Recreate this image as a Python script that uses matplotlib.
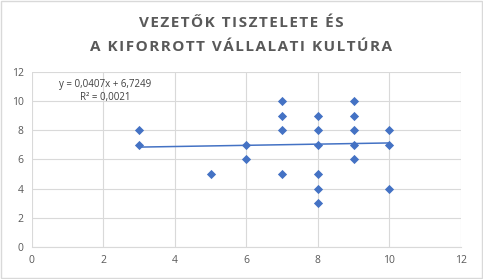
import matplotlib
matplotlib.use('Agg')
import matplotlib.pyplot as plt
from matplotlib.patches import Rectangle
import numpy as np

x_vals = [3, 3, 5, 6, 6, 7, 7, 7, 7, 8, 8, 8, 8, 8, 8, 9, 9, 9, 9, 9, 10, 10, 10]
y_vals = [8, 7, 5, 7, 6, 10, 9, 8, 5, 9, 8, 7, 5, 4, 3, 10, 9, 8, 7, 6, 8, 7, 4]
slope = 0.0407
intercept = 6.7249
eq_text = "y = 0,0407x + 6,7249\nR² = 0,0021"
title_lines = ["VEZETŐK TISZTELETE ÉS", "A KIFORROTT VÁLLALATI KULTÚRA"]

plt.rcParams['font.family'] = ['Open Sans', 'DejaVu Sans']

def spaced(s):
    # Excel title uses extra letter spacing
    return '\u200a'.join(s)

fig = plt.figure(figsize=(4.83, 2.79), dpi=100)
ax = fig.add_axes([0.066, 0.115, 0.888, 0.627])

ax.scatter(x_vals, y_vals, marker='D', s=22, color='#4472C4', zorder=3, linewidths=0)
tx = np.array([min(x_vals), max(x_vals)])
ax.plot(tx, slope * tx + intercept, color='#4472C4', lw=1.1, zorder=2)

ax.set_xlim(0, 12)
ax.set_ylim(0, 12)
ax.set_xticks(range(0, 13, 2))
ax.set_yticks(range(0, 13, 2))
ax.grid(True, color='#D9D9D9', lw=0.8)
ax.set_axisbelow(True)
for s in ['top', 'right', 'left']:
    ax.spines[s].set_visible(False)
ax.spines['bottom'].set_color('#D9D9D9')
ax.tick_params(length=0, labelsize=7.5, labelcolor='#595959', pad=6)

ax.text(2.04, 10.7, eq_text, ha='center', va='center', fontsize=7,
        color='#404040', linespacing=1.25)

fig.text(0.5, 0.918, spaced(title_lines[0]), ha='center', va='center', fontsize=11,
         fontweight='bold', color='#595959')
fig.text(0.5, 0.83, spaced(title_lines[1]), ha='center', va='center', fontsize=11,
         fontweight='bold', color='#595959')

fig.patches.append(Rectangle((0.003, 0.005), 0.994, 0.99, transform=fig.transFigure,
                             fill=False, edgecolor='#D9D9D9', lw=1))

fig.savefig('out.png', dpi=100)
